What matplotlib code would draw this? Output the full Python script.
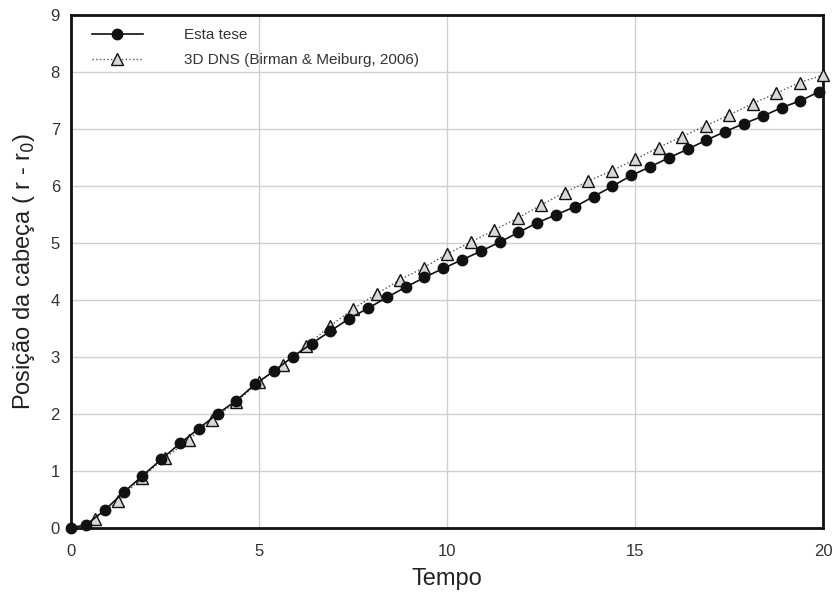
import matplotlib
matplotlib.use("Agg")
import matplotlib.pyplot as plt
import numpy as np

plt.rcParams['font.family'] = ['Liberation Sans', 'DejaVu Sans']

# Data: "Esta tese" (filled circles)
t_tese = [0.0, 0.4, 0.9, 1.4, 1.9, 2.4, 2.9, 3.4, 3.9, 4.4, 4.9, 5.4, 5.9, 6.4, 6.9,
          7.4, 7.9, 8.4, 8.9, 9.4, 9.9, 10.4, 10.9, 11.4, 11.9, 12.4, 12.9, 13.4,
          13.9, 14.4, 14.9, 15.4, 15.9, 16.4, 16.9, 17.4, 17.9, 18.4, 18.9, 19.4, 19.9]
y_tese = [0.0, 0.05, 0.31, 0.62, 0.91, 1.20, 1.48, 1.74, 2.00, 2.23, 2.52, 2.75, 3.00,
          3.23, 3.45, 3.67, 3.85, 4.04, 4.22, 4.39, 4.55, 4.70, 4.85, 5.01, 5.18, 5.35,
          5.49, 5.63, 5.81, 5.99, 6.18, 6.33, 6.49, 6.64, 6.80, 6.95, 7.09, 7.22, 7.37,
          7.49, 7.65]

# Data: "3D DNS (Birman & Meiburg, 2006)" (open triangles)
t_dns = [0.625, 1.25, 1.875, 2.5, 3.125, 3.75, 4.375, 5.0, 5.625, 6.25, 6.875,
         7.5, 8.125, 8.75, 9.375, 10.0, 10.625, 11.25, 11.875, 12.5, 13.125, 13.75,
         14.375, 15.0, 15.625, 16.25, 16.875, 17.5, 18.125, 18.75, 19.375, 20.0]
y_dns = [0.16, 0.46, 0.88, 1.22, 1.54, 1.89, 2.20, 2.55, 2.86, 3.18, 3.53, 3.84,
         4.10, 4.35, 4.56, 4.80, 5.01, 5.22, 5.43, 5.66, 5.88, 6.08, 6.26, 6.46, 6.67,
         6.86, 7.05, 7.24, 7.44, 7.62, 7.81, 7.94]

x_ticks = [0, 5, 10, 15, 20]
y_ticks = [0, 1, 2, 3, 4, 5, 6, 7, 8, 9]

fig = plt.figure(figsize=(8.34, 5.92), dpi=100)
ax = fig.add_axes([71/834, 1 - 527.7/592, (823 - 71)/834, (527.7 - 14.7)/592])

ax.plot(t_dns, y_dns, linestyle=':', color='#555555', linewidth=1.0,
        marker='^', markersize=8, markerfacecolor='#d8d8d8',
        markeredgecolor='#111111', markeredgewidth=1.0,
        label='3D DNS (Birman & Meiburg, 2006)', zorder=3, clip_on=False)
ax.plot(t_tese, y_tese, linestyle='-', color='#111111', linewidth=1.2,
        marker='o', markersize=7.5, markerfacecolor='#111111',
        markeredgecolor='#111111', label='Esta tese', zorder=4, clip_on=False)

ax.set_xlim(0, 20)
ax.set_ylim(0, 9)
ax.set_xticks(x_ticks)
ax.set_yticks(y_ticks)
ax.grid(True, color='#d0d0d0', linewidth=1.0)
ax.set_axisbelow(True)
for s in ax.spines.values():
    s.set_linewidth(2.0)
    s.set_color('#111111')
ax.tick_params(length=0, labelsize=12, labelcolor='#333333')
ax.tick_params(axis='x', pad=12)
ax.tick_params(axis='y', pad=8)

ax.set_xlabel('Tempo', fontsize=17, color='#222222', labelpad=6)
ax.set_ylabel('Posição da cabeça ( r - r$_0$)', fontsize=17, color='#222222', labelpad=10)

handles, labels = ax.get_legend_handles_labels()
leg = ax.legend(handles[::-1], labels[::-1], loc='upper left', frameon=False,
                fontsize=11, handlelength=3.3, labelspacing=0.7,
                bbox_to_anchor=(0.01, 1.0), handletextpad=2.7)
for txt in leg.get_texts():
    txt.set_color('#333333')

fig.savefig('out.png', dpi=100)
